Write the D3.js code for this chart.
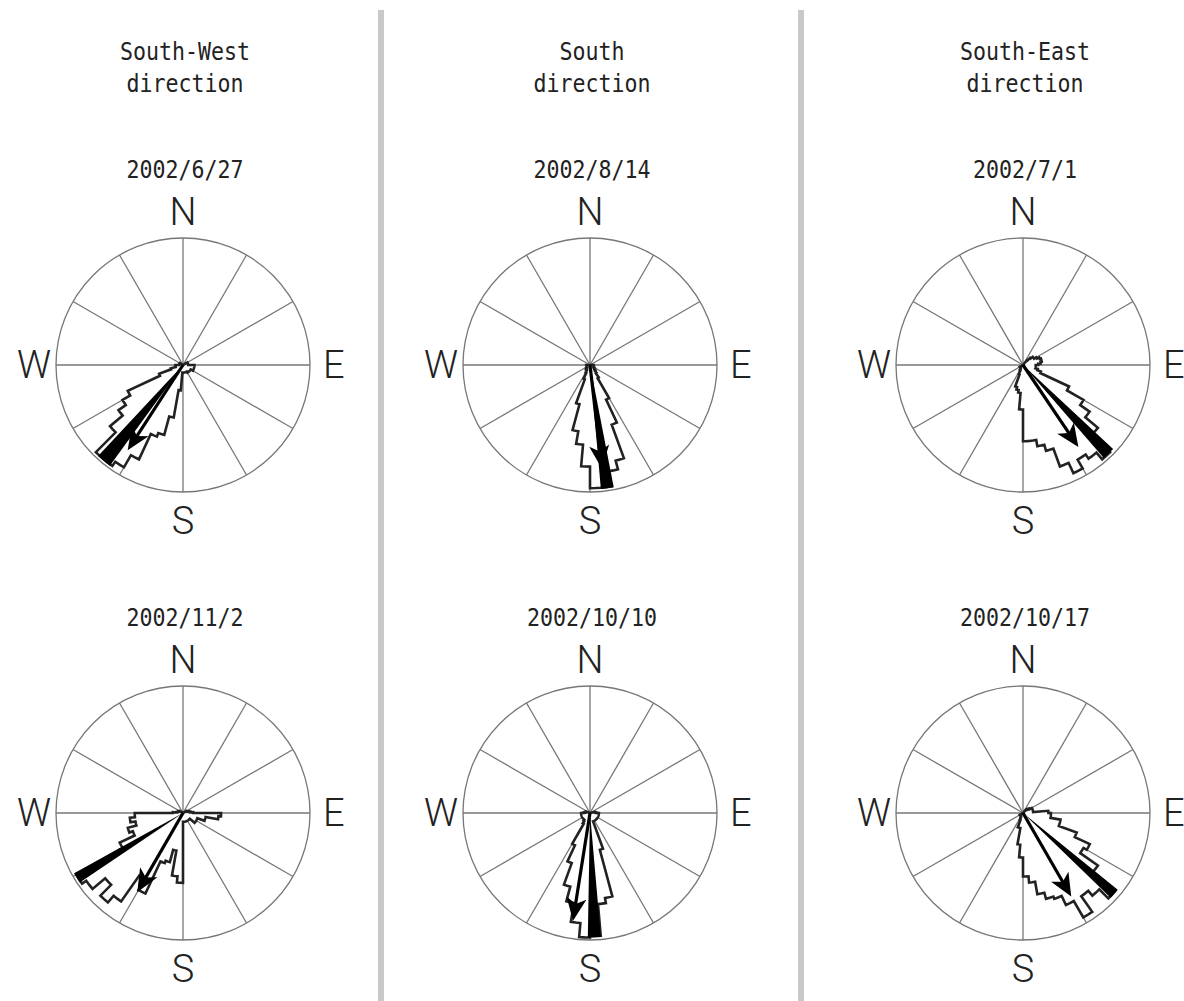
<!DOCTYPE html>
<html>
<head>
<meta charset="utf-8">
<script src="https://cdn.jsdelivr.net/npm/d3@7"></script>
<style>
  body { margin: 0; background: #fff; }
  svg { display: block; }
</style>
</head>
<body>
<div id="chart"></div>
<script>
// titles, dates and compass labels
const columnTitles = ['South-West', 'South', 'South-East']
const dates = ['2002/6/27', '2002/8/14', '2002/7/1', '2002/11/2', '2002/10/10', '2002/10/17']
const compass = ['N', 'E', 'S', 'W']
const spokeAngles = [0, 30, 60, 90, 120, 150, 180, 210, 240, 270, 300, 330]

// 5 degree bins from north, clockwise (0,5,...,355); length as share of the circle radius
const bins_0627 = [
  0, 0, 0, 0, 0, 0, 0, 0, 0, 0, 0, 0,
  0.04, 0.04, 0.04, 0.04, 0.04, 0.04, 0.09, 0.09, 0.09, 0.09, 0.09, 0.09,
  0.07, 0.07, 0.07, 0.07, 0.07, 0.07, 0.06, 0.06, 0.06, 0.06, 0.06, 0.06,
  0.06, 0.2, 0.42, 0.57, 0.6, 0.82, 0.93, 0.97, 0.97, 0.75, 0.62, 0.55,
  0.48, 0.2, 0.1, 0.06, 0.06, 0.06, 0.03, 0.03, 0.03, 0.03, 0.03, 0.03,
  0, 0, 0, 0, 0, 0, 0, 0, 0, 0, 0, 0
]
const bins_0814 = [
  0, 0, 0, 0, 0, 0, 0, 0, 0, 0, 0, 0,
  0, 0, 0, 0, 0, 0, 0.03, 0.03, 0.03, 0.03, 0.03, 0.03,
  0.04, 0.04, 0.05, 0.06, 0.08, 0.12, 0.3, 0.5, 0.78, 0.85, 0.97, 0.97,
  0.8, 0.63, 0.53, 0.32, 0.12, 0.07, 0.05, 0.05, 0.04, 0.04, 0.03, 0.03,
  0.03, 0.03, 0.03, 0.03, 0.03, 0.03, 0, 0, 0, 0, 0, 0,
  0, 0, 0, 0, 0, 0, 0, 0, 0, 0, 0, 0
]
const bins_0701 = [
  0, 0, 0, 0, 0, 0, 0, 0, 0.05, 0.08, 0.1, 0.1,
  0.12, 0.14, 0.15, 0.15, 0.14, 0.12, 0.1, 0.1, 0.1, 0.12, 0.15, 0.4,
  0.55, 0.64, 0.77, 0.97, 0.9, 0.86, 0.94, 0.85, 0.7, 0.65, 0.6, 0.6,
  0.35, 0.22, 0.2, 0.18, 0.08, 0.05, 0.04, 0.03, 0.03, 0.03, 0.03, 0.03,
  0, 0, 0, 0, 0, 0, 0, 0, 0, 0, 0, 0,
  0, 0, 0, 0, 0, 0, 0, 0, 0, 0, 0, 0
]
const bins_1102 = [
  0, 0, 0, 0, 0, 0, 0, 0, 0, 0, 0, 0,
  0.03, 0.03, 0.04, 0.05, 0.06, 0.08, 0.3, 0.28, 0.18, 0.18, 0.12, 0.12,
  0.12, 0.12, 0.07, 0.07, 0.07, 0.07, 0.07, 0.07, 0.07, 0.07, 0.07, 0.07,
  0.55, 0.5, 0.3, 0.4, 0.42, 0.7, 0.6, 0.85, 0.92, 0.8, 0.93, 0.97,
  0.55, 0.42, 0.45, 0.38, 0.42, 0.38, 0.08, 0.05, 0.04, 0.04, 0.03, 0.03,
  0, 0, 0, 0, 0, 0, 0, 0, 0, 0, 0, 0
]
const bins_1010 = [
  0, 0, 0, 0, 0, 0, 0, 0, 0, 0, 0, 0,
  0, 0, 0, 0.03, 0.04, 0.05, 0.07, 0.07, 0.07, 0.07, 0.07, 0.07,
  0.07, 0.07, 0.07, 0.07, 0.07, 0.07, 0.07, 0.07, 0.3, 0.68, 0.72, 0.97,
  0.98, 0.87, 0.72, 0.6, 0.42, 0.28, 0.1, 0.08, 0.07, 0.07, 0.07, 0.07,
  0.07, 0.07, 0.07, 0.07, 0.07, 0.07, 0.05, 0.04, 0.03, 0.03, 0, 0,
  0, 0, 0, 0, 0, 0, 0, 0, 0, 0, 0, 0
]
const bins_1017 = [
  0, 0, 0, 0, 0, 0, 0, 0, 0.03, 0.04, 0.05, 0.06,
  0.08, 0.08, 0.08, 0.08, 0.08, 0.2, 0.22, 0.22, 0.3, 0.3, 0.45, 0.58,
  0.55, 0.72, 0.95, 0.85, 0.8, 0.95, 0.8, 0.72, 0.7, 0.65, 0.55, 0.5,
  0.35, 0.25, 0.12, 0.12, 0.06, 0.04, 0.03, 0.03, 0.03, 0.03, 0.03, 0.03,
  0, 0, 0, 0, 0, 0, 0, 0, 0, 0, 0, 0,
  0, 0, 0, 0, 0, 0, 0, 0, 0, 0, 0, 0
]
const allBins = [bins_0627, bins_0814, bins_0701, bins_1102, bins_1010, bins_1017]

// black peak sector (degrees) and mean direction arrow
const peakFrom = [216, 169, 133, 236, 175, 129]
const peakTo = [223, 175, 139, 241, 181, 134]
const peakLen = [0.98, 0.98, 0.97, 0.98, 0.98, 0.96]
const meanDir = [213, 173.5, 146, 210, 189, 150]
const meanLen = [0.8, 0.82, 0.78, 0.72, 0.86, 0.76]

const R = 127
const colX = [183, 590, 1023]
const rowY = [365, 813]
const binWidth = 5
const monoFont = "'DejaVu Sans Mono', 'Liberation Mono', monospace"

const svg = d3.select('#chart').append('svg')
  .attr('width', 1184)
  .attr('height', 1001)

// grey separators
svg.selectAll('.sep')
  .data([381, 801])
  .join('rect')
  .attr('x', d => d - 3)
  .attr('y', 10)
  .attr('width', 6)
  .attr('height', 991)
  .attr('fill', '#c9c9c9')

function monoText(sel, str, x, y) {
  sel.append('text')
    .attr('x', x)
    .attr('y', y)
    .attr('text-anchor', 'middle')
    .attr('textLength', 13 * str.length)
    .attr('lengthAdjust', 'spacingAndGlyphs')
    .style('font-family', monoFont)
    .style('font-size', '24px')
    .style('fill', '#222')
    .text(str)
}

columnTitles.forEach((t, c) => {
  monoText(svg, t, colX[c] + 2, 60)
  monoText(svg, 'direction', colX[c] + 2, 92)
})

const radius = d3.scaleLinear().domain([0, 1]).range([0, R])
const angle = d3.scaleLinear().domain([0, 360]).range([0, 2 * Math.PI])

const outline = d3.lineRadial().curve(d3.curveLinearClosed)
const sector = d3.arc()

function rose(i) {
  const cx = colX[i % 3], cy = rowY[Math.floor(i / 3)]
  monoText(svg, dates[i], cx + 2, cy - 187)

  const g = svg.append('g').attr('transform', `translate(${cx},${cy})`)

  // spokes and circle
  g.selectAll('.spoke')
    .data(spokeAngles)
    .join('line')
    .attr('x1', 0).attr('y1', 0)
    .attr('x2', d => radius(1) * Math.sin(angle(d)))
    .attr('y2', d => -radius(1) * Math.cos(angle(d)))
    .attr('stroke', '#777')
    .attr('stroke-width', 1.3)
  g.append('circle')
    .attr('r', radius(1))
    .attr('fill', 'none')
    .attr('stroke', '#777')
    .attr('stroke-width', 1.3)

  // stepped histogram outline
  const pts = []
  allBins[i].forEach((v, k) => {
    const a = k * binWidth
    ;[0, 2.5, 5].forEach(o => pts.push([angle(a + o), radius(v)]))
  })
  g.append('path')
    .attr('d', outline(pts))
    .attr('fill', '#fff')
    .attr('stroke', '#222')
    .attr('stroke-width', 2.6)
    .attr('stroke-linejoin', 'miter')
    .attr('stroke-miterlimit', 2)

  // black peak
  g.append('path')
    .attr('d', sector({ innerRadius: 0, outerRadius: radius(peakLen[i]), startAngle: angle(peakFrom[i]), endAngle: angle(peakTo[i]) }))
    .attr('fill', '#000')

  // mean direction arrow
  const L = radius(meanLen[i])
  const ar = g.append('g').attr('transform', `rotate(${meanDir[i]})`)
  ar.append('line')
    .attr('x1', 0).attr('y1', 0)
    .attr('x2', 0).attr('y2', -(L - 16))
    .attr('stroke', '#000')
    .attr('stroke-width', 3.2)
  ar.append('polygon')
    .attr('points', `0,${-L} ${-10},${-L + 23} 0,${-L + 17} ${10},${-L + 23}`)
    .attr('fill', '#000')

  // compass letters
  const pos = [
    [0, -R - 13, 'middle'],
    [R + 13, 13, 'start'],
    [0, R + 42, 'middle'],
    [-R - 5, 13, 'end']
  ]
  g.selectAll('.dir')
    .data(compass)
    .join('text')
    .attr('x', (d, k) => pos[k][0])
    .attr('y', (d, k) => pos[k][1])
    .attr('text-anchor', (d, k) => pos[k][2])
    .style('font-family', 'Roboto, "Noto Sans", sans-serif')
    .style('font-weight', 300)
    .style('font-size', '38px')
    .style('fill', '#222')
    .text(d => d)
}

d3.range(6).forEach(rose)
</script>
</body>
</html>
